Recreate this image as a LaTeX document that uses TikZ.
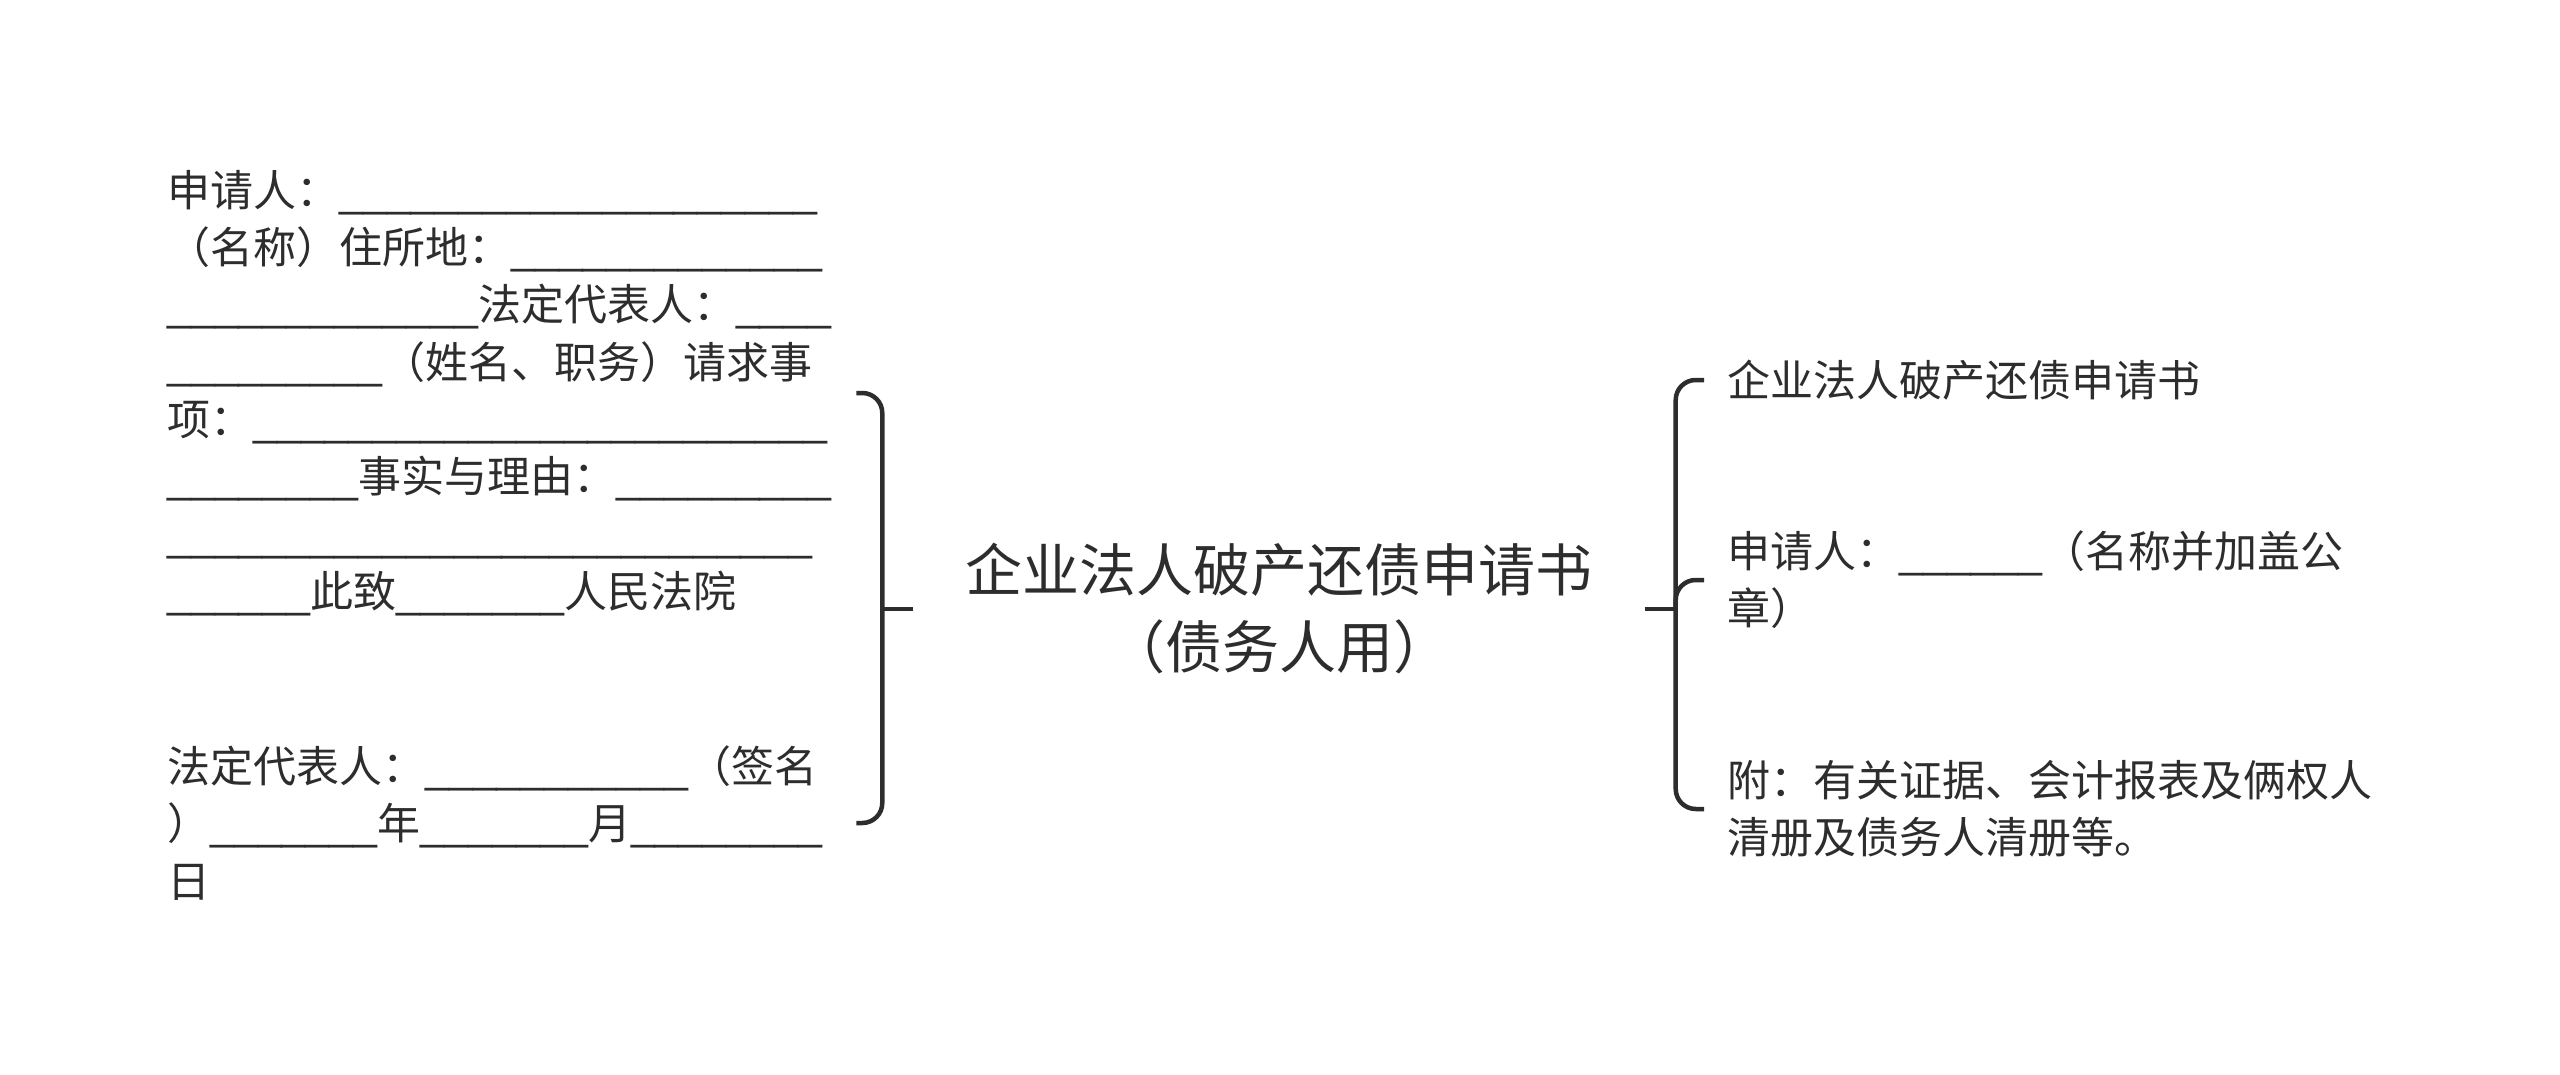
\documentclass[tikz,border=0pt]{standalone}
\usepackage{fontspec}
\setmainfont{Noto Sans CJK SC}
\newfontfamily\uf{Liberation Sans}
\ExplSyntaxOn
\NewDocumentCommand\blk{m}{{\uf\prg_replicate:nn{#1}{\textunderscore}}}
\ExplSyntaxOff
\definecolor{ink}{RGB}{45,45,45}
\begin{document}
\begin{tikzpicture}[x=1pt,y=-1pt,
  txt/.style={text=ink, inner ysep=4pt, align=left, font=\fontsize{43pt}{57.3pt}\selectfont},
  conn/.style={draw=ink, line width=4.5pt},
  brk/.style={conn, rounded corners=20pt}]
\fill[white] (0,0) rectangle (2560,1075);
\path[use as bounding box] (0,0) rectangle (2560,1075);
% root
\node[text=ink, align=center, inner xsep=52pt, font=\fontsize{57pt}{77pt}\selectfont] (root) at (1279,609)
  {企业法人破产还债申请书\\（债务人用）};
% left children
\node[txt, anchor=west, inner xsep=12pt, text width=677pt] (L1) at (155,393)
  {申请人：\blk{20}\\
   （名称）住所地：\blk{13}\\
   \blk{13}法定代表人：\blk{4}\\
   \blk{9}（姓名、职务）请求事\\
   项：\blk{24}\\
   \blk{8}事实与理由：\blk{9}\\
   \blk{27}\\
   \blk{6}此致\blk{7}人民法院};
\node[txt, anchor=west, inner xsep=12pt, text width=677pt] (L2) at (155,823)
  {法定代表人：\blk{11}（签名\\
   ）\blk{7}年\blk{7}月\blk{8}\\
   日};
% right children
\node[txt, anchor=west, inner xsep=23pt] (R1) at (1704,380) {企业法人破产还债申请书};
\node[txt, anchor=west, inner xsep=23pt] (R2) at (1704,580) {申请人：\blk{6}（名称并加盖公\\章）};
\node[txt, anchor=west, inner xsep=23pt] (R3) at (1704,809) {附：有关证据、会计报表及俩权人\\清册及债务人清册等。};
% connectors
\coordinate (jl) at ([xshift=-31pt]root.west);
\coordinate (jr) at ([xshift=31pt]root.east);
\draw[conn] (root.west) -- (jl);
\draw[brk] (jl) |- (L1.east);
\draw[brk] (jl) |- (L2.east);
\draw[conn] (root.east) -- (jr);
\draw[brk] (jr) |- (R1.west);
\draw[brk] (jr) |- (R2.west);
\draw[brk] (jr) |- (R3.west);
\end{tikzpicture}
\end{document}
